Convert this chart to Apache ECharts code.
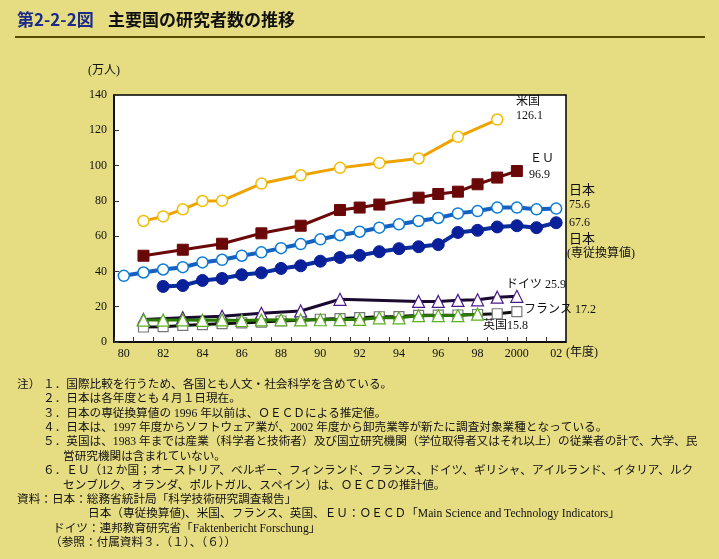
<!DOCTYPE html>
<html><head><meta charset="utf-8">
<script src="https://cdn.jsdelivr.net/npm/echarts@6/dist/echarts.min.js"></script>
<style>html,body{margin:0;padding:0;background:#e6dc82;}#c{width:719px;height:559px;}</style>
</head><body><div id="c"></div>
<script>
const years = ['80','81','82','83','84','85','86','87','88','89','90','91','92','93','94','95','96','97','98','99','2000','01','02'];
const yTicks = [0,20,40,60,80,100,120,140];
// 1980 ... 2002 (万人)
const usa =      [null,68.6,71.2,75.2,79.9,80.1,null,89.8,null,94.5,null,98.7,null,101.5,null,104.0,null,116.3,null,126.1,null,null,null];
const eu =       [null,48.9,null,52.3,null,55.7,null,61.6,null,65.9,null,74.8,76.2,77.9,null,81.8,83.9,85.2,89.4,93.2,96.9,null,null];
const japan =    [37.5,39.4,41.1,42.4,45.1,46.6,48.9,50.8,53.2,55.5,58.2,60.5,62.5,64.8,66.7,68.6,70.3,72.9,74.2,76.2,76.2,75.2,75.6];
const japanFTE = [null,null,31.5,32.0,34.9,36.0,38.1,39.2,41.7,43.2,45.8,47.9,49.1,51.2,52.9,54.0,55.2,62.1,63.3,65.2,65.9,64.8,67.6];
const germany =  [null,12.8,null,13.8,null,14.6,null,16.3,null,17.6,null,24.2,null,null,null,23.0,23.0,23.6,23.9,25.4,25.9,null,null];
const france =   [null,8.5,8.7,9.4,9.9,10.4,10.8,11.3,11.9,12.3,12.9,13.3,13.8,14.3,14.4,15.1,15.2,15.3,15.6,16.0,17.2,null,null];
const uk =       [null,12.4,12.4,12.5,12.3,12.5,12.2,12.5,12.6,12.5,12.6,12.7,12.8,13.7,13.7,14.9,15.0,15.0,15.8,null,null,null,null];

const notes = [
  '注）',
  '１．国際比較を行うため、各国とも人文・社会科学を含めている。',
  '２．日本は各年度とも４月１日現在。',
  '３．日本の専従換算値の 1996 年以前は、ＯＥＣＤによる推定値。',
  '４．日本は、1997 年度からソフトウェア業が、2002 年度から卸売業等が新たに調査対象業種となっている。',
  '５．英国は、1983 年までは産業（科学者と技術者）及び国立研究機関（学位取得者又はそれ以上）の従業者の計で、大学、民',
  '営研究機関は含まれていない。',
  '６．ＥＵ（12 か国；オーストリア、ベルギー、フィンランド、フランス、ドイツ、ギリシャ、アイルランド、イタリア、ルク',
  'センブルク、オランダ、ポルトガル、スペイン）は、ＯＥＣＤの推計値。',
  '資料：日本：総務省統計局「科学技術研究調査報告」',
  '日本（専従換算値)、米国、フランス、英国、ＥＵ：ＯＥＣＤ「Main Science and Technology Indicators」',
  'ドイツ：連邦教育研究省「Faktenbericht Forschung」',
  '（参照：付属資料３．（１）、（６））'
];

const SERIF = '"Liberation Serif","Noto Sans CJK JP",serif';
const CJK = '"Liberation Serif","Noto Sans CJK JP",sans-serif';

function txt(x, y, s, extra) {
  return Object.assign({type:'text', left:x, top:y, style:{text:s, fill:'#111', font:'12px ' + CJK}}, extra || {});
}

const noteX = [17,43,43,43,43,43,63,43,63,17,88,53,50];
const noteRow = [0,0,1,2,3,4,5,6,7,8,9,10,11];
const graphics = [
  {type:'text', left:17, top:11, style:{text:'第2-2-2図', fill:'#1a2b8c', font:'bold 17px "Noto Sans CJK JP",sans-serif'}},
  {type:'text', left:108, top:11, style:{text:'主要国の研究者数の推移', fill:'#111', font:'bold 17px "Noto Sans CJK JP",sans-serif'}},
  {type:'rect', shape:{x:15, y:36, width:690, height:2}, style:{fill:'#5a4a00'}},
  txt(88, 65, '(万人)'),
  txt(566, 347, '(年度)'),
  txt(516, 96, '米国'),
  {type:'text', left:516, top:110, style:{text:'126.1', fill:'#111', font:'12px ' + SERIF}},
  txt(530, 153, 'ＥＵ'),
  {type:'text', left:529, top:169, style:{text:'96.9', fill:'#111', font:'12px ' + SERIF}},
  txt(569, 183, '日本', {style:{text:'日本', fill:'#111', font:'13px "Noto Sans CJK JP",sans-serif'}}),
  {type:'text', left:569, top:199, style:{text:'75.6', fill:'#111', font:'12px ' + SERIF}},
  {type:'text', left:569, top:217, style:{text:'67.6', fill:'#111', font:'12px ' + SERIF}},
  txt(569, 232, '日本', {style:{text:'日本', fill:'#111', font:'13px "Noto Sans CJK JP",sans-serif'}}),
  txt(567, 248, '(専従換算値)'),
  txt(506, 279, 'ドイツ 25.9'),
  txt(524, 304, 'フランス 17.2'),
  txt(483, 320, '英国15.8')
];
notes.forEach((s,i) => graphics.push({type:'text', left:noteX[i], top:379 + noteRow[i]*14.4, style:{text:s, fill:'#111', font:'11.65px ' + CJK}}));

function lineSeries(name, data, lineColor, width, symbol, size, fill, border, bw, z) {
  return {
    name, type:'line', data, connectNulls:true, symbol, symbolSize:size, showAllSymbol:true,
    lineStyle:{color:lineColor, width}, itemStyle:{color:fill, borderColor:border, borderWidth:bw, opacity:1},
    emphasis:{disabled:true}, z, animation:false
  };
}

const chart = echarts.init(document.getElementById('c'), null, {renderer:'canvas'});
chart.setOption({
  backgroundColor:'#e6dc82',
  animation:false,
  grid:{left:114, top:95, right:153, bottom:217, show:true, backgroundColor:'#ffffff', borderColor:'#000', borderWidth:1.5, containLabel:false},
  xAxis:{
    type:'category', data:years, boundaryGap:true,
    axisLine:{lineStyle:{color:'#000', width:1.5}},
    axisTick:{show:true, inside:true, length:5, interval:0, lineStyle:{color:'#333'}},
    axisLabel:{interval:1, color:'#111', fontFamily:'Liberation Serif', fontSize:12, margin:6}
  },
  yAxis:{
    type:'value', min:yTicks[0], max:yTicks[yTicks.length-1], interval:20,
    axisLine:{show:true, lineStyle:{color:'#000', width:1.5}},
    axisTick:{show:true, inside:true, length:5, lineStyle:{color:'#333'}},
    splitLine:{show:false},
    axisLabel:{color:'#111', fontFamily:'Liberation Serif', fontSize:12, margin:7}
  },
  series:[
    lineSeries('米国', usa, '#eea400', 3, 'circle', 11, '#fff', '#f3bc00', 1.5, 3),
    lineSeries('EU', eu, '#6a0808', 3, 'rect', 11, '#6a0808', '#6a0808', 1, 3),
    lineSeries('日本', japan, '#1560c0', 4, 'circle', 11, '#fff', '#0a7bd6', 1.5, 3),
    lineSeries('日本(専従換算値)', japanFTE, '#0a2d9e', 4, 'circle', 12, '#0a1f9a', '#0a1f9a', 1, 3),
    lineSeries('フランス', france, '#111', 3, 'rect', 10, '#fff', '#777', 1.2, 3),
    lineSeries('ドイツ', germany, '#1a0a30', 3, 'triangle', 12, '#fff', '#4a1a8a', 1.2, 4),
    lineSeries('英国', uk, '#2a7a00', 3, 'triangle', 12, '#fff', '#5cb020', 1.2, 5)
  ],
  graphic:graphics
});
</script></body></html>
